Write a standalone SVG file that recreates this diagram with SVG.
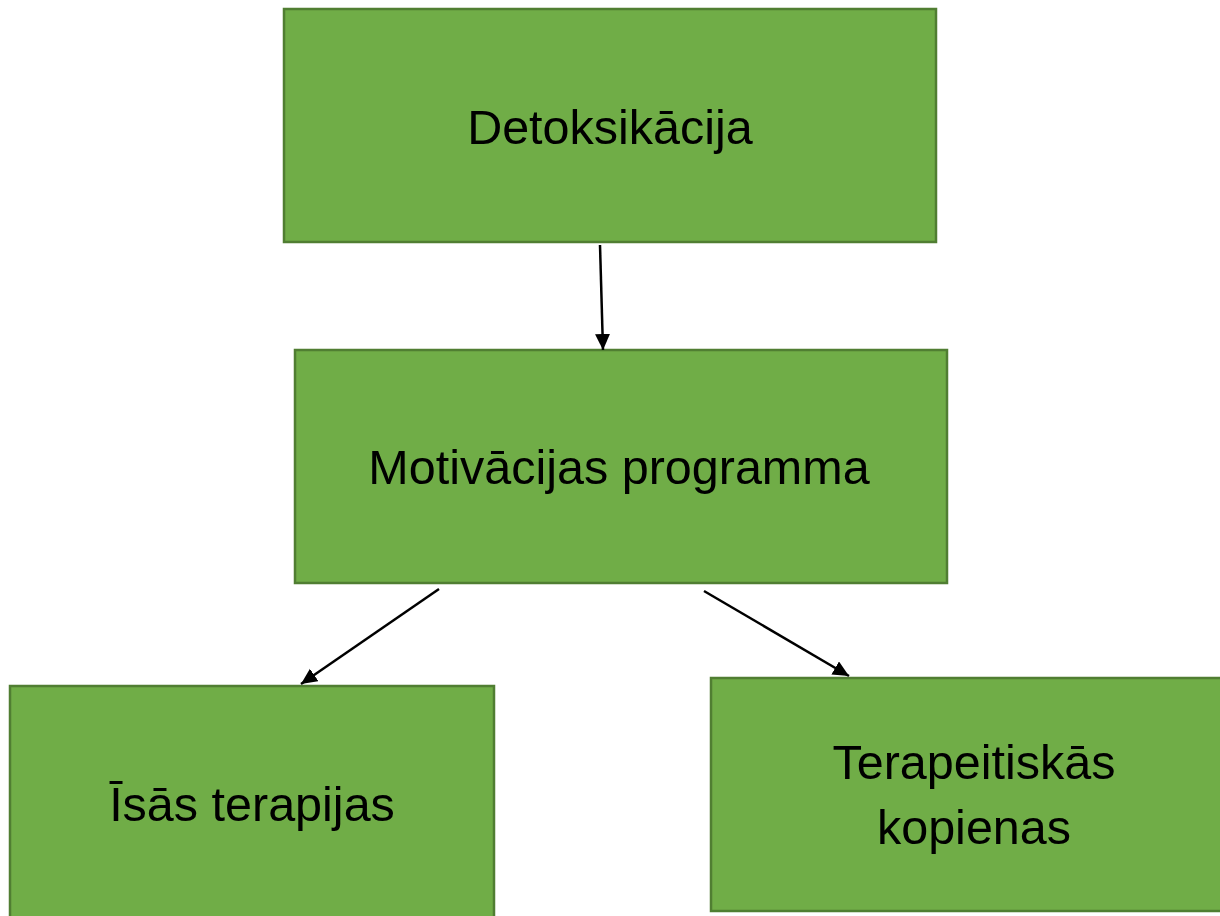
<svg xmlns="http://www.w3.org/2000/svg" width="1220" height="916" viewBox="0 0 1220 916">
  <style>
    .box { fill: #70AD47; stroke: #507E32; stroke-width: 2.5; }
    .lbl { font-family: "Liberation Sans", Arial, sans-serif; font-size: 48.5px; fill: #000; text-anchor: middle; }
    .conn { stroke: #000; stroke-width: 2.5; fill: none; }
  </style>
  <defs>
    <marker id="arrow" markerUnits="userSpaceOnUse" markerWidth="18" markerHeight="16" refX="16" refY="7.5" orient="auto">
      <path d="M0,0 L16,7.5 L0,15 z" fill="#000"/>
    </marker>
  </defs>
  <rect width="1220" height="916" fill="#fff"/>
  <g id="node-detoksikacija">
    <rect class="box" x="284" y="9" width="652" height="233"/>
    <text class="lbl" x="610" y="144">Detoksikācija</text>
  </g>
  <g id="node-motivacijas">
    <rect class="box" x="295" y="350" width="652" height="233"/>
    <text class="lbl" x="619" y="484">Motivācijas programma</text>
  </g>
  <g id="node-isas">
    <rect class="box" x="10" y="686" width="484" height="240"/>
    <text class="lbl" x="252" y="821">Īsās terapijas</text>
  </g>
  <g id="node-terapeitiskas">
    <rect class="box" x="711" y="678" width="526" height="233"/>
    <text class="lbl" x="974" y="779">Terapeitiskās</text>
    <text class="lbl" x="974" y="844">kopienas</text>
  </g>
  <g id="connectors">
    <line class="conn" x1="600" y1="245" x2="603" y2="350" marker-end="url(#arrow)"/>
    <line class="conn" x1="439" y1="589" x2="301" y2="684" marker-end="url(#arrow)"/>
    <line class="conn" x1="704" y1="591" x2="849" y2="676" marker-end="url(#arrow)"/>
  </g>
</svg>
